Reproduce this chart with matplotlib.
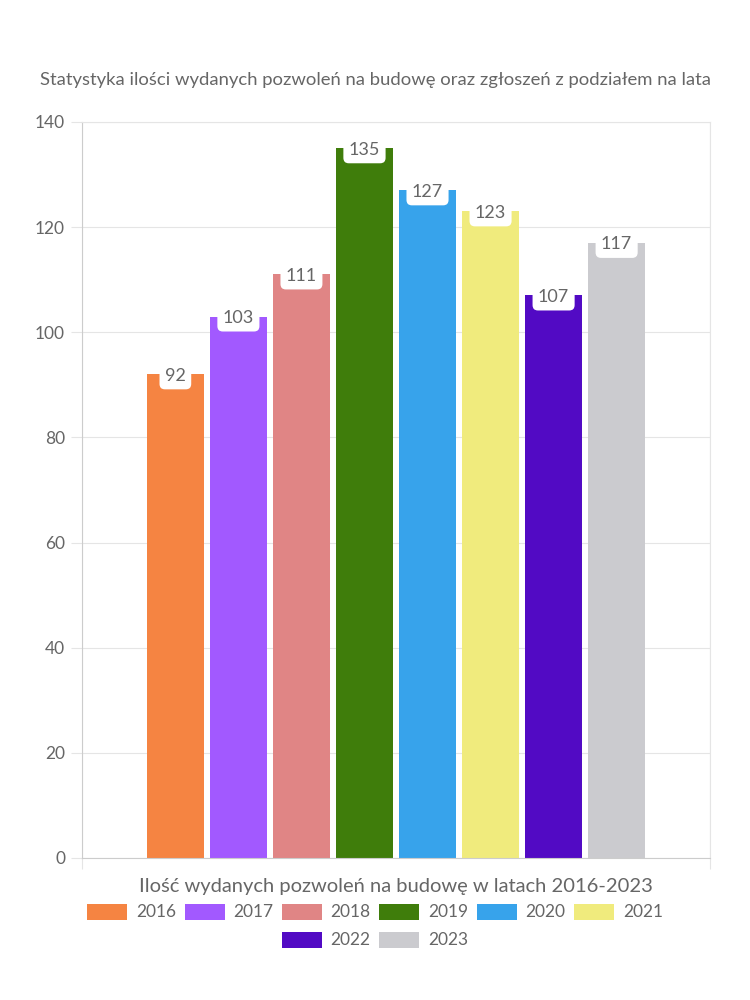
import matplotlib
import numpy as np

matplotlib.use("Agg")

from matplotlib import pyplot as plt
from matplotlib.patches import Patch

YEARS = ["2016", "2017", "2018", "2019", "2020", "2021", "2022", "2023"]
VALUES = [92, 103, 111, 135, 127, 123, 107, 117]
COLORS = ["#F58442", "#A259FF", "#E08585", "#3F7D0B", "#37A3EB", "#F0EB7D", "#520AC4", "#CBCBCF"]
Y_TICKS = [0, 20, 40, 60, 80, 100, 120, 140]
TITLE = "Statystyka ilości wydanych pozwoleń na budowę oraz zgłoszeń z podziałem na lata"
X_LABEL = "Ilość wydanych pozwoleń na budowę w latach 2016-2023"

TEXT_COLOR = "#666666"
GRID_COLOR = "#E5E5E5"

plt.rcParams["font.family"] = ["Lato", "DejaVu Sans"]

fig = plt.figure(figsize=(7.5, 10), dpi=100)
ax = fig.add_axes([0.109, 0.142, 0.838, 0.736])

step = 0.1003
width = 0.0908
positions = (np.arange(len(VALUES)) - (len(VALUES) - 1) / 2) * step

ax.bar(positions, VALUES, width=width, color=COLORS, zorder=2)

for x, v in zip(positions, VALUES):
    ax.text(x, v - 0.3, str(v), ha="center", va="center", fontsize=13, color=TEXT_COLOR,
            zorder=3,
            bbox=dict(boxstyle="round,pad=0.3,rounding_size=0.3", facecolor="white", edgecolor="none"))

ax.set_xlim(-0.5, 0.5)
ax.set_ylim(0, 140)
ax.set_yticks(Y_TICKS)
ax.set_yticklabels([str(t) for t in Y_TICKS], fontsize=12.5, color=TEXT_COLOR)
ax.tick_params(axis="y", length=8, color=GRID_COLOR, pad=4)
ax.set_xticks([-0.5, 0.5])
ax.set_xticklabels(["", ""])
ax.tick_params(axis="x", length=8, color=GRID_COLOR)
ax.grid(axis="y", color=GRID_COLOR, linewidth=0.8, zorder=0)
ax.grid(axis="x", color=GRID_COLOR, linewidth=0.8, zorder=0)

for side in ["left", "bottom"]:
    ax.spines[side].set_color("#CCCCCC")
for side in ["top", "right"]:
    ax.spines[side].set_color(GRID_COLOR)

ax.set_xlabel(X_LABEL, fontsize=14.5, color=TEXT_COLOR, labelpad=3)
fig.text(0.5, 0.92, TITLE, ha="center", va="center", fontsize=13.3, color=TEXT_COLOR)

handles = [Patch(facecolor=c, edgecolor="none") for c in COLORS]
leg_kw = dict(frameon=False, fontsize=12.5, labelcolor=TEXT_COLOR, handlelength=2.3,
              handleheight=1.05, handletextpad=0.5, columnspacing=0.5)
fig.legend(handles[:6], YEARS[:6], ncol=6, loc="center", bbox_to_anchor=(0.5, 0.088), **leg_kw)
fig.legend(handles[6:], YEARS[6:], ncol=2, loc="center", bbox_to_anchor=(0.5, 0.06), **leg_kw)

fig.savefig("out.png", dpi=100, facecolor="white")
